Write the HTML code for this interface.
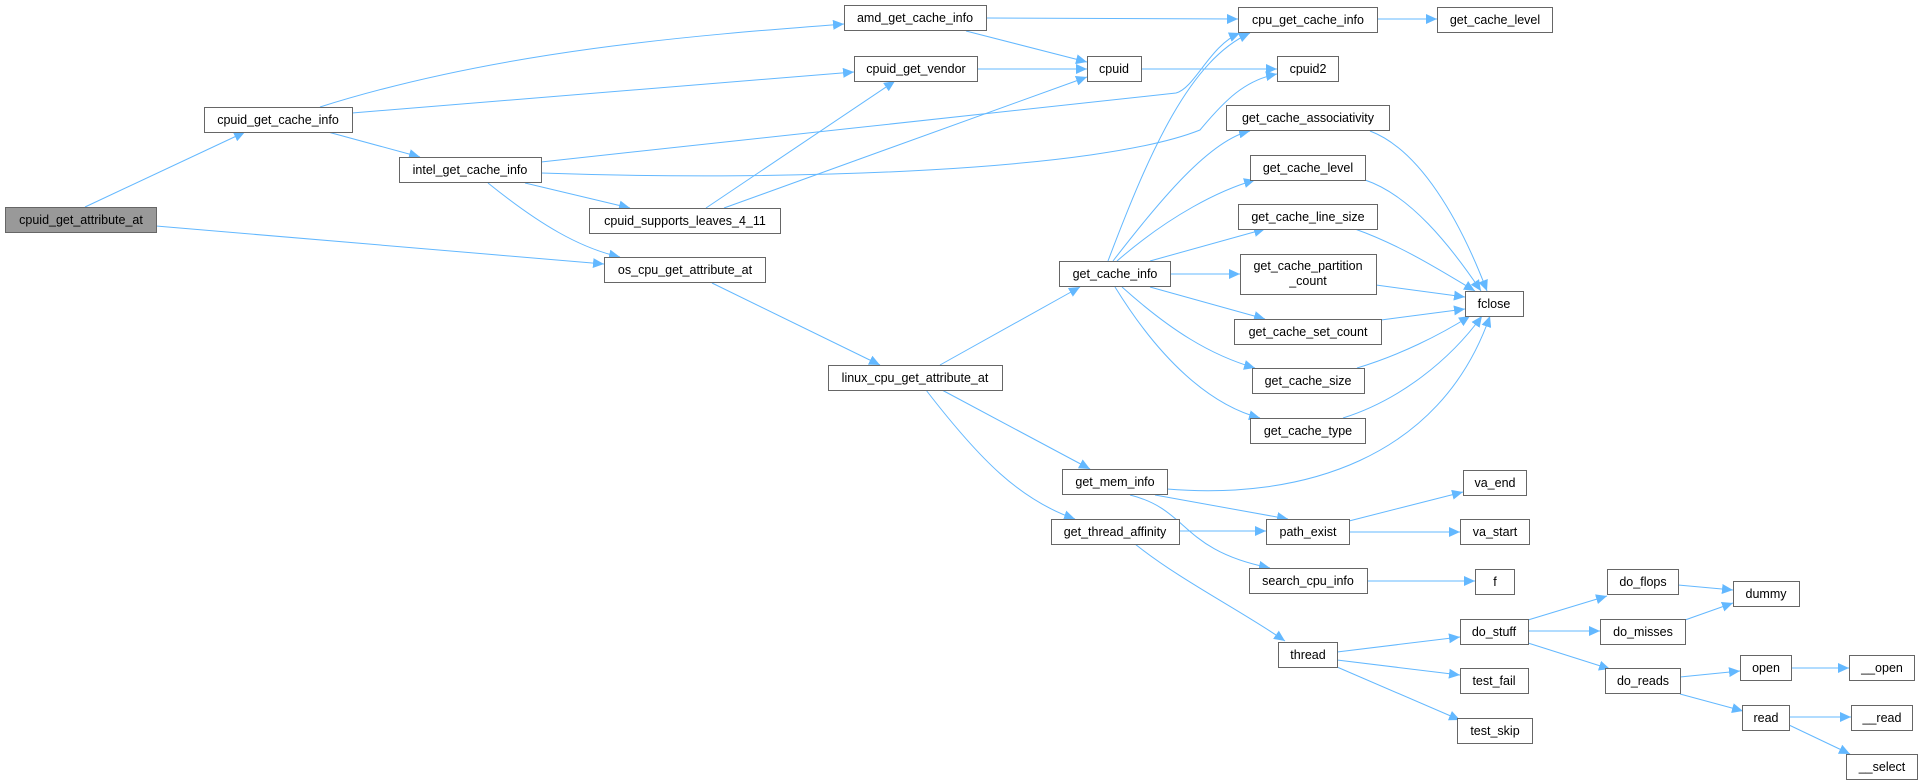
<!DOCTYPE html>
<html><head><meta charset="utf-8"><style>
html,body{margin:0;padding:0;background:#fff;}
svg{display:block;}
text{font-family:"Liberation Sans",Arial,sans-serif;font-size:12.5px;fill:#000;text-anchor:middle;}
.n{fill:#fff;stroke:#666;stroke-width:1;}
.e{fill:none;stroke:#63b8ff;stroke-width:1;}
</style></head><body>
<svg width="1923" height="783" viewBox="0 0 1923 783" xmlns="http://www.w3.org/2000/svg">
<defs><marker id="a" markerUnits="userSpaceOnUse" markerWidth="12" markerHeight="10" refX="11" refY="5" orient="auto"><path d="M0,0 L11,5 L0,10 z" fill="#63b8ff"/></marker></defs>
<g marker-end="url(#a)">
<path class="e" d="M85,207 L245,132"/>
<path class="e" d="M156,226 L604,264"/>
<path class="e" d="M320,107 C500,50 700,35 844,24"/>
<path class="e" d="M352,113 L854,72"/>
<path class="e" d="M328,132 L420,157"/>
<path class="e" d="M541,162 L1176,93 C1195,88 1210,45 1240,33"/>
<path class="e" d="M541,173 C800,182 1100,170 1200,130 C1225,100 1245,80 1277,74"/>
<path class="e" d="M525,183 L630,208"/>
<path class="e" d="M488,183 C540,225 580,248 620,257"/>
<path class="e" d="M706,208 L895,81"/>
<path class="e" d="M724,208 L1087,77"/>
<path class="e" d="M986,18 L1238,19"/>
<path class="e" d="M966,31 L1087,62"/>
<path class="e" d="M977,69 L1087,69"/>
<path class="e" d="M1141,69 L1277,69"/>
<path class="e" d="M1377,19 L1437,19"/>
<path class="e" d="M712,283 L880,365"/>
<path class="e" d="M940,365 L1080,287"/>
<path class="e" d="M942,390 L1090,469"/>
<path class="e" d="M926,390 C980,460 1020,500 1075,519"/>
<path class="e" d="M1108,261 C1150,150 1190,60 1250,33"/>
<path class="e" d="M1113,261 C1160,200 1210,140 1250,131"/>
<path class="e" d="M1117,261 C1170,215 1220,190 1255,180"/>
<path class="e" d="M1150,261 L1265,229"/>
<path class="e" d="M1170,274 L1240,274"/>
<path class="e" d="M1150,287 L1265,319"/>
<path class="e" d="M1122,287 C1170,330 1210,355 1255,368"/>
<path class="e" d="M1115,287 C1160,360 1210,405 1260,418"/>
<path class="e" d="M1370,131 C1420,150 1460,220 1487,291"/>
<path class="e" d="M1365,180 C1410,195 1450,245 1481,291"/>
<path class="e" d="M1355,229 C1400,245 1440,270 1475,291"/>
<path class="e" d="M1376,285 L1465,297"/>
<path class="e" d="M1381,320 L1465,309"/>
<path class="e" d="M1357,368 C1400,355 1440,335 1470,316"/>
<path class="e" d="M1343,418 C1400,400 1450,360 1482,316"/>
<path class="e" d="M1167,489 C1300,500 1440,460 1490,316"/>
<path class="e" d="M1155,495 L1288,519"/>
<path class="e" d="M1130,495 C1190,510 1180,550 1270,568"/>
<path class="e" d="M1179,531 L1266,531"/>
<path class="e" d="M1135,544 C1180,580 1240,610 1285,641"/>
<path class="e" d="M1349,521 L1463,492"/>
<path class="e" d="M1349,532 L1460,532"/>
<path class="e" d="M1367,581 L1475,581"/>
<path class="e" d="M1337,652 L1460,637"/>
<path class="e" d="M1337,660 L1460,675"/>
<path class="e" d="M1337,667 L1460,720"/>
<path class="e" d="M1528,620 L1607,596"/>
<path class="e" d="M1528,631 L1600,631"/>
<path class="e" d="M1528,643 L1610,669"/>
<path class="e" d="M1678,585 L1733,590"/>
<path class="e" d="M1685,620 L1733,603"/>
<path class="e" d="M1680,677 L1740,671"/>
<path class="e" d="M1680,694 L1743,711"/>
<path class="e" d="M1791,668 L1849,668"/>
<path class="e" d="M1789,717 L1851,717"/>
<path class="e" d="M1789,725 L1850,754"/>
</g>
<g>
<rect x="5.5" y="207.5" width="151" height="25" style="fill:#999;stroke:#666"/><text x="81" y="224">cpuid_get_attribute_at</text>
<rect class="n" x="204.5" y="107.5" width="148" height="25"/><text x="278" y="124">cpuid_get_cache_info</text>
<rect class="n" x="399.5" y="157.5" width="142" height="25"/><text x="470" y="174">intel_get_cache_info</text>
<rect class="n" x="589.5" y="208.5" width="191" height="25"/><text x="685" y="225">cpuid_supports_leaves_4_11</text>
<rect class="n" x="604.5" y="257.5" width="161" height="25"/><text x="685" y="274">os_cpu_get_attribute_at</text>
<rect class="n" x="844.5" y="5.5" width="142" height="25"/><text x="915" y="22">amd_get_cache_info</text>
<rect class="n" x="854.5" y="56.5" width="123" height="25"/><text x="916" y="73">cpuid_get_vendor</text>
<rect class="n" x="1087.5" y="56.5" width="54" height="25"/><text x="1114" y="73">cpuid</text>
<rect class="n" x="1059.5" y="261.5" width="111" height="25"/><text x="1115" y="278">get_cache_info</text>
<rect class="n" x="828.5" y="365.5" width="174" height="25"/><text x="915" y="382">linux_cpu_get_attribute_at</text>
<rect class="n" x="1238.5" y="7.5" width="139" height="25"/><text x="1308" y="24">cpu_get_cache_info</text>
<rect class="n" x="1437.5" y="7.5" width="115" height="25"/><text x="1495" y="24">get_cache_level</text>
<rect class="n" x="1277.5" y="56.5" width="61" height="25"/><text x="1308" y="73">cpuid2</text>
<rect class="n" x="1226.5" y="105.5" width="163" height="25"/><text x="1308" y="122">get_cache_associativity</text>
<rect class="n" x="1250.5" y="155.5" width="115" height="25"/><text x="1308" y="172">get_cache_level</text>
<rect class="n" x="1238.5" y="204.5" width="139" height="25"/><text x="1308" y="221">get_cache_line_size</text>
<rect class="n" x="1240.5" y="254.5" width="136" height="40"/><text x="1308" y="270">get_cache_partition</text><text x="1308" y="285">_count</text>
<rect class="n" x="1465.5" y="291.5" width="58" height="25"/><text x="1494" y="308">fclose</text>
<rect class="n" x="1234.5" y="319.5" width="147" height="25"/><text x="1308" y="336">get_cache_set_count</text>
<rect class="n" x="1252.5" y="368.5" width="112" height="25"/><text x="1308" y="385">get_cache_size</text>
<rect class="n" x="1250.5" y="418.5" width="115" height="25"/><text x="1308" y="435">get_cache_type</text>
<rect class="n" x="1062.5" y="469.5" width="105" height="25"/><text x="1115" y="486">get_mem_info</text>
<rect class="n" x="1051.5" y="519.5" width="128" height="25"/><text x="1115" y="536">get_thread_affinity</text>
<rect class="n" x="1266.5" y="519.5" width="83" height="25"/><text x="1308" y="536">path_exist</text>
<rect class="n" x="1249.5" y="568.5" width="118" height="25"/><text x="1308" y="585">search_cpu_info</text>
<rect class="n" x="1278.5" y="642.5" width="59" height="25"/><text x="1308" y="659">thread</text>
<rect class="n" x="1463.5" y="470.5" width="63" height="25"/><text x="1495" y="487">va_end</text>
<rect class="n" x="1460.5" y="519.5" width="69" height="25"/><text x="1495" y="536">va_start</text>
<rect class="n" x="1475.5" y="569.5" width="39" height="25"/><text x="1495" y="586">f</text>
<rect class="n" x="1460.5" y="619.5" width="68" height="25"/><text x="1494" y="636">do_stuff</text>
<rect class="n" x="1460.5" y="668.5" width="68" height="25"/><text x="1494" y="685">test_fail</text>
<rect class="n" x="1457.5" y="718.5" width="75" height="25"/><text x="1495" y="735">test_skip</text>
<rect class="n" x="1607.5" y="569.5" width="71" height="25"/><text x="1643" y="586">do_flops</text>
<rect class="n" x="1600.5" y="619.5" width="85" height="25"/><text x="1643" y="636">do_misses</text>
<rect class="n" x="1605.5" y="668.5" width="75" height="25"/><text x="1643" y="685">do_reads</text>
<rect class="n" x="1733.5" y="581.5" width="66" height="25"/><text x="1766" y="598">dummy</text>
<rect class="n" x="1740.5" y="655.5" width="51" height="25"/><text x="1766" y="672">open</text>
<rect class="n" x="1742.5" y="705.5" width="47" height="25"/><text x="1766" y="722">read</text>
<rect class="n" x="1849.5" y="655.5" width="65" height="25"/><text x="1882" y="672">__open</text>
<rect class="n" x="1851.5" y="705.5" width="61" height="25"/><text x="1882" y="722">__read</text>
<rect class="n" x="1846.5" y="754.5" width="71" height="25"/><text x="1882" y="771">__select</text>
</g>
</svg>
</body></html>
